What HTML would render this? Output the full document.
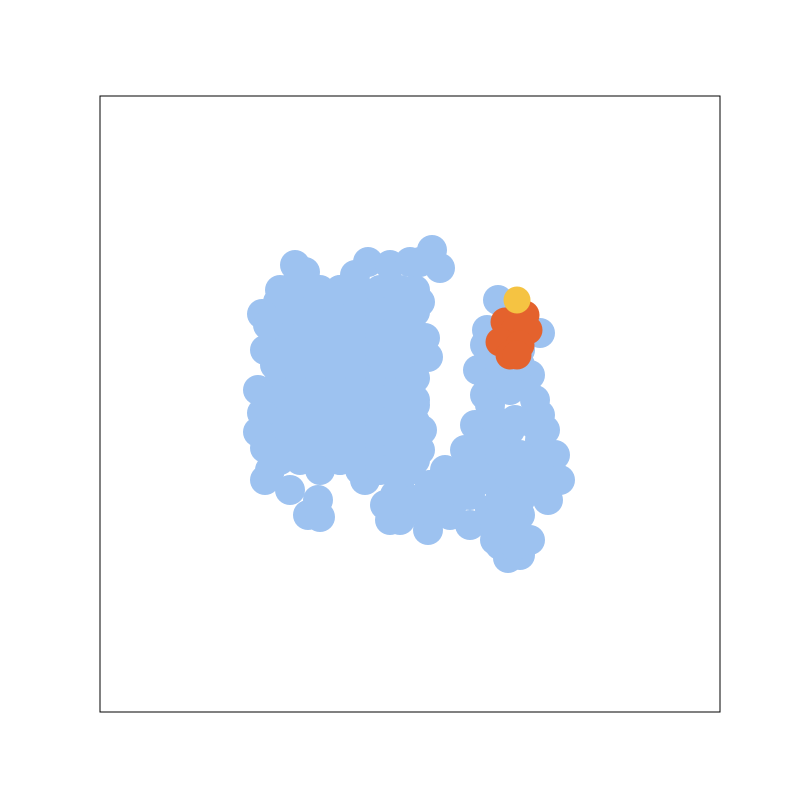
<!DOCTYPE html>
<html><head><meta charset="utf-8"><style>
html,body{margin:0;padding:0;background:#fff;}
svg{display:block;}
</style></head><body>
<svg id="chart" width="800" height="800">
<rect x="100" y="96" width="620" height="616" fill="#fff" stroke="#000" stroke-width="1"/>
<g id="marks"></g>
</svg>
<script>
const blueX=[295,305,368,390,410,432,440,420,355,340,320,295,278,262,268,290,420,425,428,410,265,275,258,262,258,265,270,265,290,308,320,318,320,340,360,365,380,400,395,390,400,428,420,430,445,420,422,415,405,
498,487,485,478,485,490,530,535,540,545,540,520,500,510,
465,488,510,540,555,560,548,530,520,508,495,470,450,440,465,490,510,530,510,490,520,475,455,
385,400,415,435,455,410,430,450,470,480,500,520,540,490,510,530,545,500,520,495,515,505,520,500,515,525,500,520,475,495,515,535];
const blueY=[265,272,262,265,262,250,268,262,275,290,295,285,302,314,325,310,302,338,357,378,350,365,390,413,432,448,470,480,490,515,517,500,470,460,470,480,470,480,495,520,520,530,510,485,470,450,430,405,400,
300,330,345,370,395,405,375,400,415,430,333,350,380,390,
450,435,430,440,455,480,500,540,555,558,540,525,515,505,490,470,460,470,500,510,515,470,475,
505,500,500,500,500,470,485,490,495,455,455,455,460,480,480,485,480,500,500,525,525,535,535,545,545,540,365,365,425,420,420,425];
const gridXs=[280,300,320,340,360,380,400,415];
const gridYs=[290,312,334,356,378,400,422,444,460];
const orangeX=[505,525,515,528,500,520,510,517];
const orangeY=[322,315,330,330,342,345,355,355];
const yellowX=[517];
const yellowY=[300];
const xs=v=>100+(v-100)*1;
const ys=v=>96+(v-96)*1;
const g=document.getElementById('marks');
function dot(x,y,r,c,name){
  const el=document.createElementNS('http://www.w3.org/2000/svg','circle');
  el.setAttribute('cx',xs(x));el.setAttribute('cy',ys(y));el.setAttribute('r',r);el.setAttribute('fill',c);
  
  
  g.appendChild(el);
}
gridXs.forEach(x=>gridYs.forEach(y=>dot(x,y,15,'#9dc2f0','point-blue')));
blueX.forEach((x,i)=>dot(x,blueY[i],15,'#9dc2f0','point-blue'));
orangeX.forEach((x,i)=>dot(x,orangeY[i],14.5,'#e4622d','point-orange'));
yellowX.forEach((x,i)=>dot(x,yellowY[i],13.5,'#f5c342','point-yellow'));
</script>
</body></html>
